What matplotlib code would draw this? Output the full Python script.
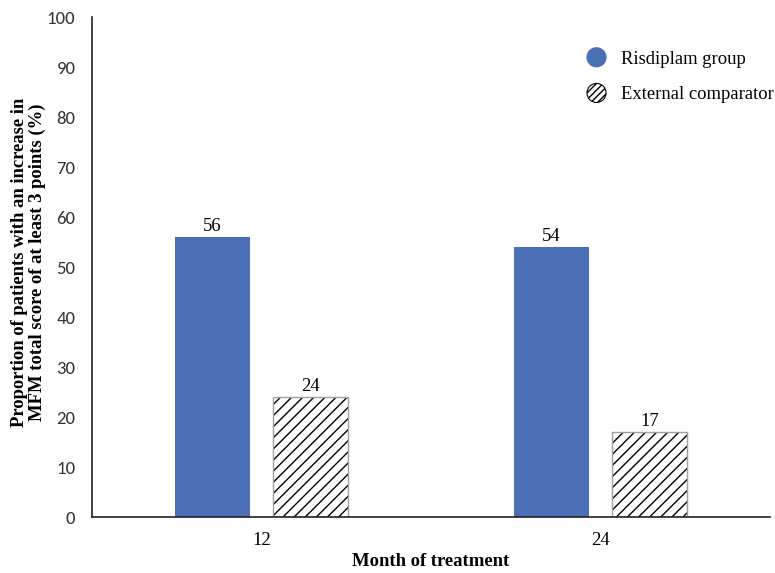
import matplotlib
matplotlib.use('Agg')
import matplotlib.pyplot as plt
import matplotlib.patches as mpatches
from matplotlib.legend_handler import HandlerPatch
import numpy as np

serif = ['Liberation Serif', 'DejaVu Serif']
sans = ['Carlito', 'Liberation Sans', 'DejaVu Sans']

months = ['12', '24']
risdiplam = [56, 54]
comparator = [24, 17]
series_names = ['Risdiplam group', 'External comparator']

blue = '#4a6fb5'
fs = 13.4

fig = plt.figure(figsize=(7.75, 5.73), dpi=100)
ax = fig.add_axes([0.1187, 0.0977, 0.8748, 0.8726])

x = np.arange(len(months))
w = 0.222
off = 0.144

ax.bar(x - off, risdiplam, w, color=blue, edgecolor='none')
# hatch lines in black, outline in grey
ax.bar(x + off, comparator, w, color='white', edgecolor='black', linewidth=0, hatch='///')
ax.bar(x + off, comparator, w, fill=False, edgecolor='#a0a0a0', linewidth=1.0)

for xi, v in zip(x - off, risdiplam):
    ax.text(xi, v + 0.4, str(v), ha='center', va='bottom', fontsize=fs, family=serif)
for xi, v in zip(x + off, comparator):
    ax.text(xi, v + 0.4, str(v), ha='center', va='bottom', fontsize=fs, family=serif)

ax.set_xlim(-0.5, 1.5)
ax.set_ylim(0, 100)
ax.set_yticks(range(0, 101, 10))
ax.set_xticks(x)
ax.set_xticklabels(months, family=serif, fontsize=fs)
for t in ax.get_yticklabels():
    t.set_family(sans)
    t.set_fontsize(13.5)
    t.set_color('#333333')
ax.tick_params(length=0)
ax.tick_params(axis='x', pad=11)
ax.tick_params(axis='y', pad=12)

for s in ['top', 'right']:
    ax.spines[s].set_visible(False)
ax.spines['left'].set_color('#222222')
ax.spines['bottom'].set_color('#222222')
ax.spines['left'].set_linewidth(1.2)
ax.spines['bottom'].set_linewidth(1.2)

ax.set_xlabel('Month of treatment', family=serif, fontsize=fs, fontweight='bold', labelpad=3)
ax.set_ylabel('Proportion of patients with an increase in\nMFM total score of at least 3 points (%)',
              family=serif, fontsize=fs, fontweight='bold', linespacing=1.05)
ax.yaxis.set_label_coords(-0.068, 0.51)


class HandlerCircle(HandlerPatch):
    def create_artists(self, legend, orig_handle, xdescent, ydescent, width, height, fontsize, trans):
        r = 0.5 * height
        c = mpatches.Circle((width / 2 - xdescent, height / 2 - ydescent), r,
                            facecolor=orig_handle.get_facecolor(),
                            edgecolor=orig_handle.get_edgecolor(),
                            hatch=orig_handle.get_hatch(), linewidth=0.8,
                            transform=trans)
        return [c]


h1 = mpatches.Circle((0, 0), 1, facecolor=blue, edgecolor=blue)
h2 = mpatches.Circle((0, 0), 1, facecolor='white', edgecolor='black', hatch='/////')
leg = ax.legend([h1, h2], series_names, handler_map={mpatches.Circle: HandlerCircle()},
                loc='upper left', bbox_to_anchor=(0.703, 0.972), frameon=False,
                prop={'family': serif, 'size': fs}, handlelength=1.2, handleheight=1.2,
                labelspacing=0.85, handletextpad=0.7)

fig.savefig('out.png', dpi=100, facecolor='white')
